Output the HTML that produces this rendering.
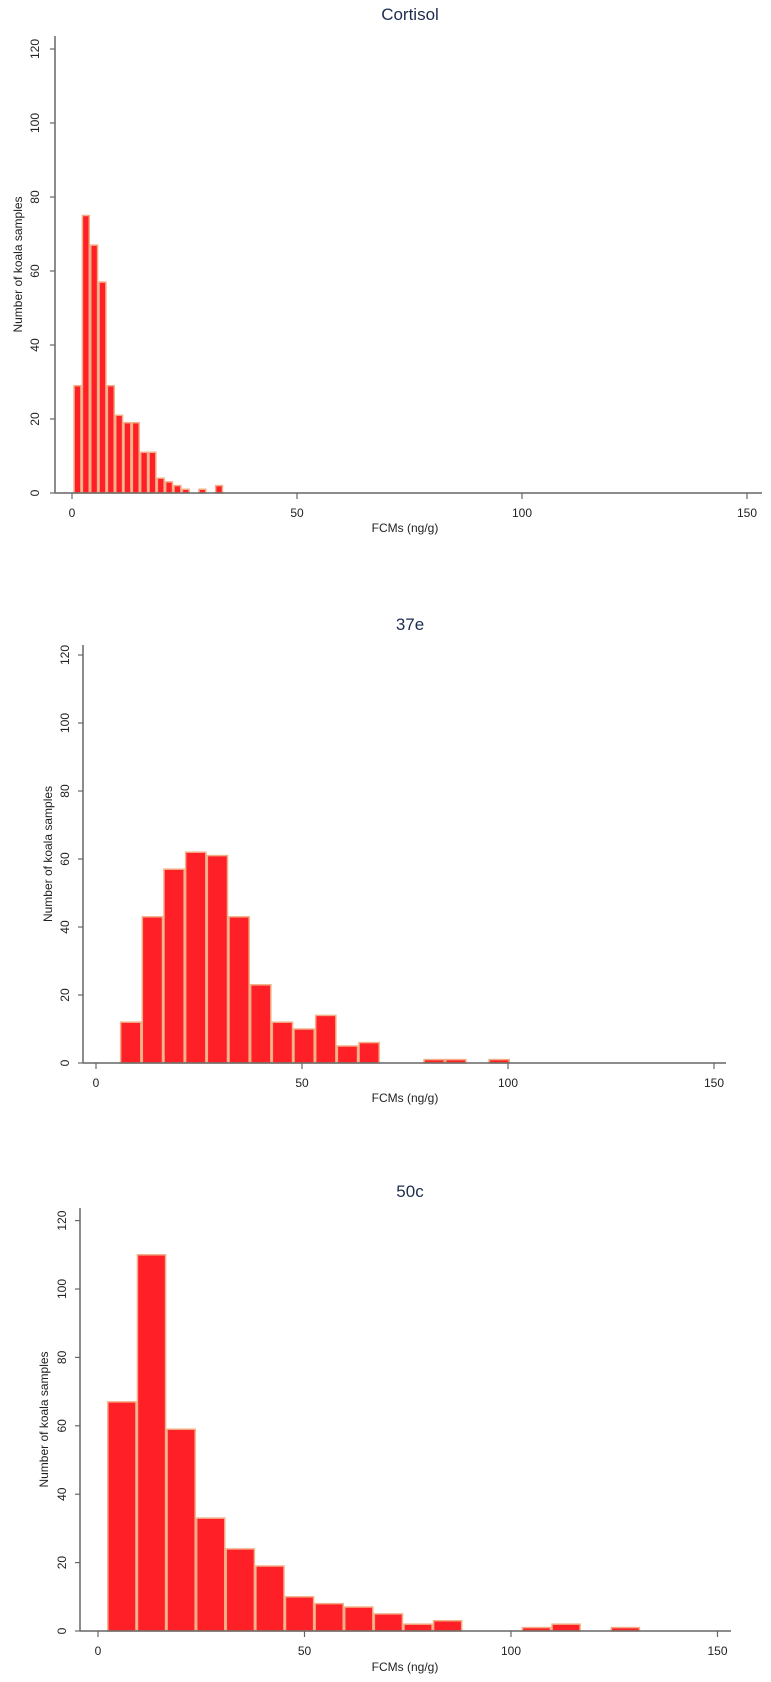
<!DOCTYPE html>
<html><head><meta charset="utf-8">
<style>
body{margin:0;background:#fff;}
svg{display:block;font-family:"Liberation Sans",sans-serif;}
</style></head>
<body>
<svg id="fig" width="771" height="1682"></svg>
<script>
// Cortisol
const cortisolStart = 0.3;
const cortisolBinWidth = 1.85;
const cortisolCounts = [29,75,67,57,29,21,19,19,11,11,4,3,2,1,0,1,0,2];
// 37e
const e37Start = 5.8;
const e37BinWidth = 5.26;
const e37Counts = [12,43,57,62,61,43,23,12,10,14,5,6,0,0,1,1,0,1];
// 50c
const c50Start = 2.2;
const c50BinWidth = 7.17;
const c50Counts = [67,110,59,33,24,19,10,8,7,5,2,3,0,0,1,2,0,1];
const xTicks = [0,50,100,150];
const yTicks = [0,20,40,60,80,100,120];
const titles = ["Cortisol","37e","50c"];

const NS="http://www.w3.org/2000/svg";
const svg=document.getElementById('fig');
function mk(tag,attrs,parent){const e=document.createElementNS(NS,tag);for(const k in attrs)e.setAttribute(k,attrs[k]);(parent||svg).appendChild(e);return e;}

const layouts=[
 {x0:72,xs:4.5,y0:493,ys:3.7,yAxisX:55,top:36,right:762,title:20,tickLblX:35,yTitleX:18,tickLblY:513,xLblY:528,starts:cortisolStart,bw:cortisolBinWidth,counts:cortisolCounts},
 {x0:96,xs:4.12,y0:1063,ys:3.4,yAxisX:83,top:645,right:726,title:630,tickLblX:65,yTitleX:48,tickLblY:1083,xLblY:1098,starts:e37Start,bw:e37BinWidth,counts:e37Counts},
 {x0:98,xs:4.13,y0:1631,ys:3.42,yAxisX:80,top:1208,right:731,title:1197,tickLblX:62,yTitleX:44,tickLblY:1651,xLblY:1667,starts:c50Start,bw:c50BinWidth,counts:c50Counts}
];

layouts.forEach((L,ci)=>{
 const g=mk('g',{});
 
 
 const X=v=>L.x0+v*L.xs, Y=v=>L.y0-v*L.ys;
 const t=mk('text',{x:410,y:L.title,'text-anchor':'middle','font-size':17,fill:'#1e2d4f'},g);
 t.textContent=titles[ci];
 
 
 // bars
 L.counts.forEach((c,i)=>{
   if(c<=0)return;
   const x1=X(L.starts+i*L.bw), x2=X(L.starts+(i+1)*L.bw);
   const r=mk('rect',{x:x1+0.75,y:Y(c),width:x2-x1-1.5,height:Math.max(Y(0)-Y(c),0.5),fill:'#ff2027',stroke:'#f2ae86','stroke-width':1.5},g);
   
   
 });
 // axes
 const ya=mk('line',{x1:L.yAxisX,y1:L.top,x2:L.yAxisX,y2:L.y0,stroke:'#666','stroke-width':1.5},g);
 
 
 const xa=mk('line',{x1:L.yAxisX,y1:L.y0,x2:L.right,y2:L.y0,stroke:'#666','stroke-width':1.5},g);
 
 
 yTicks.forEach(v=>{
   mk('line',{x1:L.yAxisX-5,y1:Y(v),x2:L.yAxisX,y2:Y(v),stroke:'#666','stroke-width':1.2},g);
   const tl=mk('text',{x:L.tickLblX,y:Y(v),'text-anchor':'middle','font-size':12,fill:'#222',transform:`rotate(-90 ${L.tickLblX} ${Y(v)})`,dy:4},g);
   tl.textContent=v;
   
   
 });
 xTicks.forEach(v=>{
   mk('line',{x1:X(v),y1:L.y0,x2:X(v),y2:L.y0+6,stroke:'#666','stroke-width':1.2},g);
   const tl=mk('text',{x:X(v),y:L.tickLblY+4,'text-anchor':'middle','font-size':12,fill:'#222'},g);
   tl.textContent=v;
   
   
 });
 const xl=mk('text',{x:405,y:L.xLblY+4,'text-anchor':'middle','font-size':12,fill:'#222'},g);
 xl.textContent='FCMs (ng/g)';
 
 
 const yc=(L.top+L.y0)/2;
 const yl=mk('text',{x:L.yTitleX,y:yc,'text-anchor':'middle','font-size':12,fill:'#222',transform:`rotate(-90 ${L.yTitleX} ${yc})`,dy:4},g);
 yl.textContent='Number of koala samples';
 
 
});
</script>
</body></html>
